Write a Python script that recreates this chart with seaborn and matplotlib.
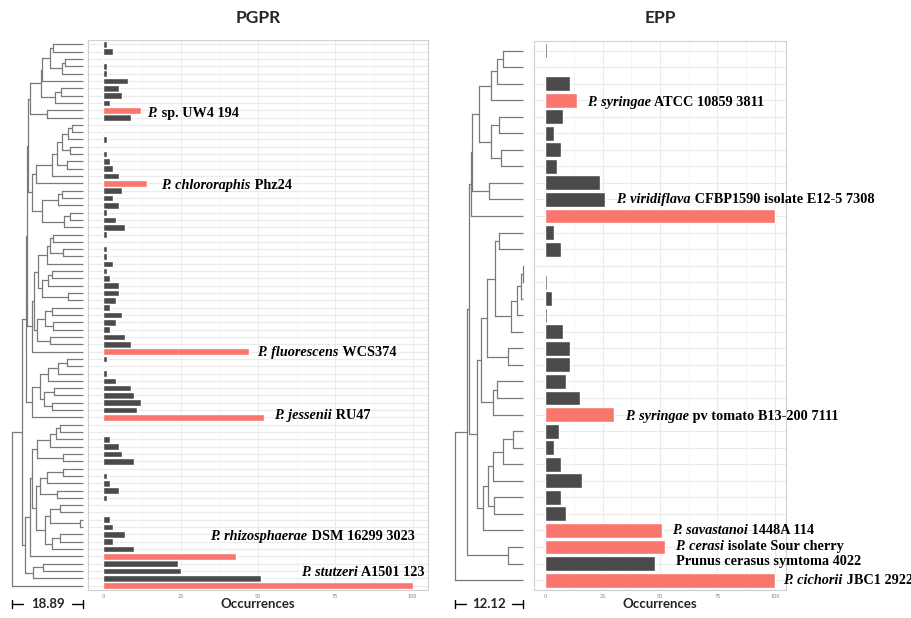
import matplotlib
matplotlib.use("Agg")
import matplotlib.pyplot as plt
import matplotlib.transforms as mtrans
import numpy as np
import pandas as pd
import seaborn as sns

# ---------------- data ----------------
pgpr_counts = [1, 3, 0, 1, 1, 8, 5, 6, 2, 12, 9, 0, 0, 1, 0, 1, 2, 3, 5, 14,
               6, 3, 5, 1, 4, 7, 1, 0, 1, 1, 3, 1, 2, 5, 5, 4, 2, 6, 4, 2,
               7, 9, 47, 1, 0, 1, 4, 9, 10, 12, 11, 52, 0, 0, 2, 5, 6, 10, 0, 1,
               2, 5, 1, 0, 0, 2, 3, 7, 3, 10, 43, 24, 25, 51, 100]
pgpr_ref_rows = [9, 19, 42, 51, 70, 74]
pgpr_label_italic = ["P.", "P. chlororaphis", "P. fluorescens", "P. jessenii",
                     "P. rhizosphaerae", "P. stutzeri"]
pgpr_label_rest = ["sp. UW4 194", "Phz24", "WCS374", "RU47",
                   "DSM 16299 3023", "A1501 123"]

epp_counts = [1, 0, 11, 14, 8, 4, 7, 5, 24, 26, 100, 4, 7, 0, 1, 3, 1, 8, 11, 11,
              9, 15, 30, 6, 4, 7, 16, 7, 9, 51, 52, 48, 100]
epp_ref_rows = [3, 10, 22, 29, 30, 32]
epp_label_italic = ["P. syringae", "P. viridiflava", "P. syringae", "P. savastanoi",
                    "P. cerasi", "", "P. cichorii"]
epp_label_rest = ["ATCC 10859 3811", "CFBP1590 isolate E12-5 7308",
                  "pv tomato B13-200 7111", "1448A 114", "isolate Sour cherry",
                  "Prunus cerasus symtoma 4022", "JBC1 2922"]

# dendrograms: (node height from root, child, child); leaves are row indices
pgpr_tree_depth = 71
pgpr_scale_label = "18.89"
_T1 = (18, (29, (30, (38, (41, 0, 1), (50, (53, 2, 3), 4)), 5), (43, (49, 6, 7), 8)),
       (35, 9, 10))
_T2 = (24, (40, (45, (50, (56, (60, 11, 12), 13), (58, 14, 15)), (55, 16, 17)), 18), 19)
_T3 = (30, (46, (50, 20, 21), 22), (52, (58, 23, 24), 25))
_T4 = (20, (22, (26, (35, (38, (41, 26, 27), (51, 28, 29)), 30),
                 (30, (36, (40, 31, 32), 33), (56, 34, 35))),
            (25, (33, (40, 36, 37), (41, 38, 39)), (38, 40, 41))), 42)
_T5 = (20, (28, (36, (46, (55, 43, 44), 45), 46), (32, (42, 47, 48), (40, 49, 50))), 51)
_U = (14, (15, (16, _T1, (20, _T2, _T3)), _T4), _T5)
_GA = (25, (38, (44, (48, 52, 53), 54), 55), (51, 56, 57))
_GB = (28, (35, (51, 58, 59), 60), (45, 61, 62))
_GC = (33, (38, (48, 63, 64), (68, 65, 66)), (40, (48, 67, 68), 69))
_L = (13, (18, (20, _GA, (24, _GB, _GC)), 70), (21, (31, 71, 72), 73))
pgpr_tree = (0, (10, _U, _L), 74)

epp_tree_depth = 68
epp_scale_label = "12.12"
_A = (24, (36, (42, (48, 0, 1), 2), 3), (36, (44, 4, 5), (46, 6, 7)))
_C = (16, (17, _A, (34, 8, 9)), 10)
_D1 = (40, (44, 11, 12), (56, (62, (66, (67.5, 13, 14), 15), 16), 17))
_D = (26, (32, _D1, (53, 18, 19)), (38, (42, 20, 21), 22))
_E = (28, (33, (38, (48, (58, 23, 24), 25), 26), (39, 27, 28)), 29)
epp_tree = (0, (12, (14, _C, (22, _D, _E)), (53, 30, 31)), 32)

# ---------------- style ----------------
sns.set_style("white")
plt.rcParams["font.family"] = ["DejaVu Sans"]

RED = "#F8766D"
DARK = "#4A4A4A"
W, H = 911, 618
fig = plt.figure(figsize=(W / 100, H / 100), dpi=100)


def px_axes(x0, y0, x1, y1):
    return fig.add_axes([x0 / W, 1 - y1 / H, (x1 - x0) / W, (y1 - y0) / H])


def draw_tree(ax, node, depth):
    if isinstance(node, int):
        return depth, float(node)
    h, *kids = node
    pts = [draw_tree(ax, k, depth) for k in kids]
    ys = [p[1] for p in pts]
    for (x, y) in pts:
        ax.plot([h, x], [y, y], color="#7A7A7A", lw=0.9, solid_capstyle="butt",
                clip_on=False)
    ax.plot([h, h], [min(ys), max(ys)], color="#7A7A7A", lw=0.9,
            solid_capstyle="projecting", clip_on=False)
    return h, (min(ys) + max(ys)) / 2


def add_label(ax, x, y, ital, rest):
    kw = dict(family="Liberation Serif", fontweight="bold", fontsize=10.3, color="black")
    if ital:
        t1 = ax.text(x, y, ital, fontstyle="italic", va="center", ha="left", **kw)
        ax.annotate(" " + rest, xy=(1, 0), xycoords=t1, va="bottom", ha="left", **kw)
    else:
        ax.text(x, y, rest, va="center", ha="left", **kw)


def panel(counts, ref_rows, box, tree_box, tree, depth, scale_label, title,
          labels_it, labels_rest, label_pos):
    n = len(counts)
    df = pd.DataFrame({
        "row": [f"r{i}" for i in range(n)],
        "count": counts,
        "grp": ["ref" if i in ref_rows else "other" for i in range(n)],
    })
    ax = px_axes(*box)
    sns.barplot(data=df, x="count", y="row", hue="grp", orient="h",
                palette={"ref": RED, "other": DARK}, dodge=False, width=0.9,
                errorbar=None, legend=False, ax=ax, saturation=1)
    ax.set_xlim(-5, 105)
    ax.set_ylim(n - 0.4, -0.6)
    ax.set_xticks([0, 25, 50, 75, 100])
    ax.set_xticks([12.5, 37.5, 62.5, 87.5], minor=True)
    ax.set_xticklabels(["0", "25", "50", "75", "100"])
    ax.set_axisbelow(True)
    ax.grid(True, which="major", axis="both", color="#EBEBEB", lw=0.8)
    ax.grid(True, which="minor", axis="x", color="#F2F2F2", lw=0.5)
    ax.tick_params(axis="y", length=2.5, width=0.6, color="#B0B0B0", labelleft=False)
    ax.tick_params(axis="x", length=1.5, width=0.6, color="#B0B0B0", labelsize=3.5,
                   labelcolor="#808080", pad=1.5)
    ax.tick_params(axis="x", which="minor", length=0)
    ax.set_xlabel("")
    ax.set_ylabel("")
    for s in ax.spines.values():
        s.set_color("#D0D0D0")
        s.set_linewidth(0.8)
    for (x, y), it, rest in zip(label_pos, labels_it, labels_rest):
        add_label(ax, x, y, it, rest)

    # dendrogram
    tax = px_axes(*tree_box)
    tax.set_xlim(0, depth)
    tax.set_ylim(n - 0.4, -0.6)
    tax.axis("off")
    draw_tree(tax, tree, depth)
    # scale bar
    tr = mtrans.blended_transform_factory(tax.transData, fig.transFigure)
    yb = 1 - 604 / H
    cap = 4 / H
    kw = dict(color="black", lw=1.0, transform=tr, clip_on=False)
    tax.plot([0, 0], [yb - cap, yb + cap], **kw)
    tax.plot([depth, depth], [yb - cap, yb + cap], **kw)
    tax.plot([0, depth * 0.16], [yb, yb], **kw)
    tax.plot([depth * 0.84, depth], [yb, yb], **kw)
    tax.text(depth / 2, yb, scale_label, transform=tr, ha="center", va="center",
             family="Lato", fontweight="bold", fontsize=9.5)

    cx = (box[0] + box[2]) / 2 / W
    fig.text(cx, 1 - 18 / H, title, ha="center", va="center", family="Lato",
             fontweight="bold", fontsize=12.5)
    fig.text(cx, 1 - 604 / H, "Occurrences", ha="center", va="center",
             family="Lato", fontweight="bold", fontsize=9.5)
    return ax


pgpr_label_pos = [(14.2, 9.5), (18.7, 19.3), (49.8, 42.1), (55.3, 50.8),
                  (34.6, 67.3), (63.9, 72.2)]
epp_label_pos = [(18.1, 3.15), (30.9, 9.0), (34.8, 22.1), (55.1, 29.0),
                 (56.5, 29.95), (57.0, 30.9), (103.6, 32.0)]

panel(pgpr_counts, pgpr_ref_rows, (88, 40, 428, 590), (12, 40, 83, 590),
      pgpr_tree, pgpr_tree_depth, pgpr_scale_label, "PGPR",
      pgpr_label_italic, pgpr_label_rest, pgpr_label_pos)
panel(epp_counts, epp_ref_rows, (533.5, 40.6, 786.5, 590), (455, 40.6, 523, 590),
      epp_tree, epp_tree_depth, epp_scale_label, "EPP",
      epp_label_italic, epp_label_rest, epp_label_pos)

fig.savefig("out.png", dpi=100, facecolor="white")
